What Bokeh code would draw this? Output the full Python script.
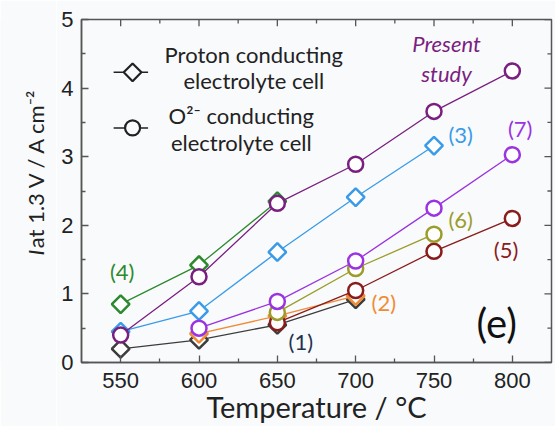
from math import pi
from bokeh.plotting import figure
from bokeh.layouts import row
from bokeh.models import Range1d, Label, FixedTicker
from bokeh.embed import file_html
from bokeh.resources import INLINE

# ---- data ----
x_ticks = [550, 600, 650, 700, 750, 800]
y_ticks = [0, 1, 2, 3, 4, 5]
x_minor = [575, 625, 675, 725, 775]
y_minor = [0.5, 1.5, 2.5, 3.5, 4.5]

t1 = [550, 600, 650, 700];            v1 = [0.20, 0.33, 0.55, 0.92]
t2 = [600, 650, 700];                 v2 = [0.42, 0.68, 0.97]
t3 = [550, 600, 650, 700, 750];       v3 = [0.45, 0.75, 1.61, 2.41, 3.16]
t4 = [550, 600, 650];                 v4 = [0.85, 1.42, 2.35]
t5 = [650, 700, 750, 800];            v5 = [0.58, 1.05, 1.62, 2.10]
t6 = [650, 700, 750];                 v6 = [0.73, 1.37, 1.87]
t7 = [600, 650, 700, 750, 800];       v7 = [0.50, 0.89, 1.48, 2.25, 3.03]
tp = [550, 600, 650, 700, 750, 800];  vp = [0.40, 1.25, 2.32, 2.89, 3.66, 4.25]

series = [
    # temps, values, colour, marker, label text, label position, label colour
    (t1, v1, "#3d3d3d", "diamond", "(1)", (665, 0.30), "#1f3350"),
    (t2, v2, "#f08c35", "diamond", "(2)", (718, 0.87), "#f08c35"),
    (t3, v3, "#3a9be8", "diamond", "(3)", (767, 3.33), "#3a9be8"),
    (t4, v4, "#2e8a2e", "diamond", "(4)", (551, 1.32), "#2e8a2e"),
    (t5, v5, "#8a1c1c", "circle", "(5)", (796, 1.64), "#8a1c1c"),
    (t6, v6, "#9c9c2a", "circle", "(6)", (767, 2.09), "#9c9c2a"),
    (t7, v7, "#9a33e0", "circle", "(7)", (805, 3.41), "#9a33e0"),
    (tp, vp, "#7a1f80", "circle", None, None, None),
]

BG = "#f8fafc"
FONT = "Lato"
AX = "#555555"
X0, X1, Y0, Y1 = 525, 825, 0, 5
W, H = 555, 426
LW = 56  # width of the strip that carries the y-axis title

p = figure(width=W - LW, height=H, output_backend="svg", toolbar_location=None,
           x_range=Range1d(X0, X1), y_range=Range1d(Y0, Y1),
           min_border_left=81 - LW, min_border_right=4, min_border_top=19, min_border_bottom=63,
           background_fill_color=BG, border_fill_color=BG)
p.xgrid.visible = False
p.ygrid.visible = False
p.outline_line_color = AX
p.outline_line_width = 1.5

for ax in (p.xaxis[0], p.yaxis[0]):
    ax.axis_line_color = AX
    ax.axis_line_width = 1.5
    ax.major_tick_in = 7
    ax.major_tick_out = 0
    ax.minor_tick_in = 4
    ax.minor_tick_out = 0
    ax.major_tick_line_color = AX
    ax.minor_tick_line_color = AX
    ax.major_tick_line_width = 1.3
    ax.minor_tick_line_width = 1.3
    ax.major_label_text_font = "Liberation Sans"
    ax.major_label_text_font_size = "22px"
    ax.major_label_text_color = "#222222"

p.xaxis[0].ticker = FixedTicker(ticks=x_ticks, minor_ticks=x_minor)
p.yaxis[0].ticker = FixedTicker(ticks=y_ticks, minor_ticks=y_minor)
p.xaxis[0].major_label_standoff = 10
p.yaxis[0].major_label_standoff = 8

# x axis title
p.xaxis[0].axis_label = "Temperature / °C"
p.xaxis[0].axis_label_text_font = FONT
p.xaxis[0].axis_label_text_font_size = "29px"
p.xaxis[0].axis_label_text_font_style = "normal"
p.xaxis[0].axis_label_text_color = "#222222"
p.xaxis[0].axis_label_standoff = -2

# inward ticks on the top and right edges of the frame (mirroring the axes)
dy_major, dy_minor = 0.10, 0.06
dx_major, dx_minor = 4.5, 2.6
p.segment(x_ticks, [Y1] * len(x_ticks), x_ticks, [Y1 - dy_major] * len(x_ticks),
          line_color=AX, line_width=1.3)
p.segment(x_minor, [Y1] * len(x_minor), x_minor, [Y1 - dy_minor] * len(x_minor),
          line_color=AX, line_width=1.3)
p.segment([X1] * len(y_ticks), y_ticks, [X1 - dx_major] * len(y_ticks), y_ticks,
          line_color=AX, line_width=1.3)
p.segment([X1] * len(y_minor), y_minor, [X1 - dx_minor] * len(y_minor), y_minor,
          line_color=AX, line_width=1.3)

# data series
for t, v, col, mk, lab, pos, lcol in series:
    p.line(t, v, line_color=col, line_width=1.3)
    if mk == "diamond":
        p.scatter(t, v, marker="square", angle=pi / 4, size=12.5,
                  line_color=col, line_width=2.5, fill_color="white")
    else:
        p.scatter(t, v, marker="circle", size=15,
                  line_color=col, line_width=2.5, fill_color="white")
    if lab:
        p.add_layout(Label(x=pos[0], y=pos[1], text=lab, text_color=lcol,
                           text_font=FONT, text_font_size="22px",
                           text_align="center", text_baseline="middle"))

# "Present study"
for txt, yy in [("Present", 4.65), ("study", 4.22)]:
    p.add_layout(Label(x=758, y=yy, text=txt, text_color="#7a1f80",
                       text_font=FONT, text_font_size="22px", text_font_style="italic",
                       text_align="center", text_baseline="middle"))

# panel tag
p.add_layout(Label(x=790, y=0.57, text="(e)", text_color="#111111",
                   text_font=FONT, text_font_size="40px",
                   text_align="center", text_baseline="middle"))

# legend (manual)
leg_x0, leg_x1, leg_xc = 545.5, 567.5, 557.6
for yy, mk in [(4.23, "diamond"), (3.42, "circle")]:
    p.line([leg_x0, leg_x1], [yy, yy], line_color="#222222", line_width=1.5)
    if mk == "diamond":
        p.scatter([leg_xc], [yy], marker="square", angle=pi / 4, size=12.5,
                  line_color="#222222", line_width=2.2, fill_color=BG)
    else:
        p.scatter([leg_xc], [yy], marker="circle", size=15,
                  line_color="#222222", line_width=2.2, fill_color=BG)

for txt, xx, yy in [("Proton conducting", 635, 4.49), ("electrolyte cell", 635, 4.11),
                    ("O²⁻ conducting", 627, 3.60), ("electrolyte cell", 627, 3.20)]:
    p.add_layout(Label(x=xx, y=yy, text=txt, text_color="#222222",
                       text_font=FONT, text_font_size="22px",
                       text_align="center", text_baseline="middle"))

# ---- y-axis title strip: italic "I" followed by the rest, rotated ----
ly = figure(width=LW, height=H, output_backend="svg", toolbar_location=None,
            x_range=Range1d(0, LW), y_range=Range1d(0, H),
            min_border=0, background_fill_color=BG, border_fill_color=BG)
ly.axis.visible = False
ly.xgrid.visible = False
ly.ygrid.visible = False
ly.outline_line_color = None
ly.add_layout(Label(x=35, y=H - 293, text="I", angle=pi / 2,
                    text_color="#222222", text_font=FONT, text_font_size="22px",
                    text_font_style="italic", text_align="left", text_baseline="middle"))
ly.add_layout(Label(x=35, y=H - 284, text="at 1.3 V / A cm⁻²", angle=pi / 2,
                    text_color="#222222", text_font=FONT, text_font_size="22px",
                    text_align="left", text_baseline="middle"))

layout = row(ly, p, spacing=0)
open("out.html", "w").write(file_html(layout, INLINE))
